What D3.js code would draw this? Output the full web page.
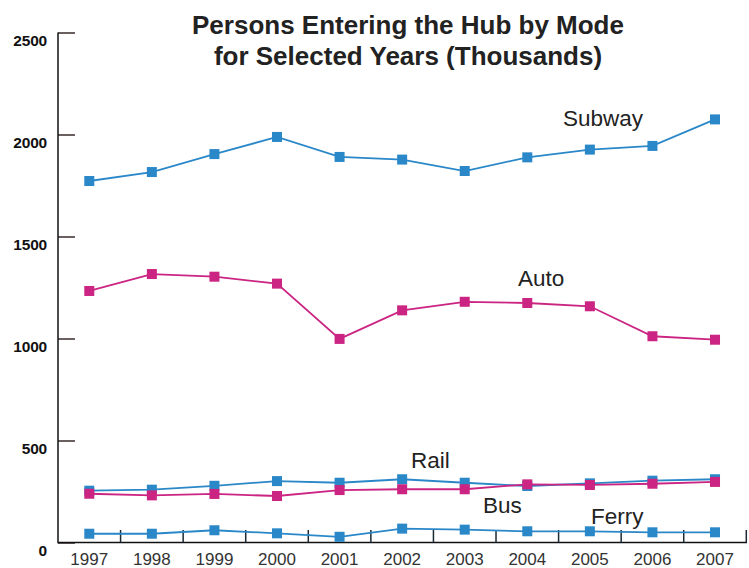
<!DOCTYPE html>
<html><head><meta charset="utf-8">
<script src="https://cdn.jsdelivr.net/npm/d3@7"></script>
<style>body{margin:0;background:#fff}svg{display:block}</style>
</head><body>
<svg id="c" width="749" height="568"></svg>
<script>
const years = ["1997","1998","1999","2000","2001","2002","2003","2004","2005","2006","2007"];
const subway = [1772,1816,1904,1988,1890,1877,1821,1888,1926,1944,2074];
const auto   = [1233,1316,1303,1269,998,1138,1180,1174,1158,1011,994];
const rail   = [254,259,278,301,293,310,293,277,290,303,310];
const bus    = [239,231,238,228,257,261,261,285,282,288,297];
const ferry  = [43,43,60,45,28,68,63,55,55,50,50];
const yTicks = [0,500,1000,1500,2000,2500];
const titleLines = ["Persons Entering the Hub by Mode","for Selected Years (Thousands)"];
const seriesNames = ["Subway","Auto","Rail","Bus","Ferry"];

const BLUE="#2a88c9", MAG="#cb2482";
const series = [
  {name:"Rail", values:rail, color:BLUE},
  {name:"Bus", values:bus, color:MAG},
  {name:"Ferry", values:ferry, color:BLUE},
  {name:"Auto", values:auto, color:MAG},
  {name:"Subway", values:subway, color:BLUE}
];
const labelPos = {Subway:[563,126],Auto:[518,286],Rail:[411,467.5],Bus:[483,512.5],Ferry:[591,523.5]};

const svg = d3.select("#c");
const x = d3.scaleBand().domain(years).range([58,746.3]);
const y = d3.scaleLinear().domain([0,2500]).range([542.5,32.5]);
const cx = d => x(d)+x.bandwidth()/2;

// title
svg.append("g").selectAll("text").data(titleLines).join("text")
  .attr("x",408).attr("y",(d,i)=>33.5+i*31)
  .attr("text-anchor","middle").attr("font-family","Liberation Sans, Arial, sans-serif")
  .attr("font-weight","bold").attr("font-size",26).attr("fill","#222").text(d=>d);

// y axis
const ya = svg.append("g").attr("transform","translate(58,0)")
  .call(d3.axisRight(y).tickValues(yTicks).tickSize(17).tickFormat(""));
ya.select(".domain").remove();
ya.selectAll(".tick line").attr("stroke","#3a2a2a").attr("stroke-width",1.5);
svg.append("line").attr("x1",58).attr("x2",58).attr("y1",32.5).attr("y2",543.2).attr("stroke","#111").attr("stroke-width",1.5);
svg.append("g").selectAll("text").data(yTicks).join("text")
  .attr("x",47).attr("y",d=>y(d)+13).attr("text-anchor","end")
  .attr("font-family","Liberation Sans, Arial, sans-serif").attr("font-weight","bold")
  .attr("font-size",15.5).attr("letter-spacing",-0.2).attr("fill","#111").text(d=>d);

// x axis
svg.append("line").attr("x1",58).attr("x2",747).attr("y1",542.5).attr("y2",542.5).attr("stroke","#111").attr("stroke-width",1.5);
const bounds = years.map(d=>x(d)+x.bandwidth());
svg.append("g").selectAll("line").data(bounds).join("line")
  .attr("x1",d=>d).attr("x2",d=>d).attr("y1",530).attr("y2",542.5)
  .attr("stroke","#1a2a35").attr("stroke-width",1.5);
svg.append("g").selectAll("text").data(years).join("text")
  .attr("x",d=>cx(d)).attr("y",565).attr("text-anchor","middle")
  .attr("font-family","Liberation Sans, Arial, sans-serif").attr("font-size",17).attr("fill","#333").text(d=>d);

// lines
const line = d3.line().x((v,i)=>cx(years[i])).y(v=>y(v));
series.forEach(s=>{
  const g = svg.append("g");
  g.append("path").attr("d",line(s.values)).attr("fill","none").attr("stroke",s.color).attr("stroke-width",1.8);
  g.selectAll("rect").data(s.values).join("rect")
    .attr("x",(v,i)=>cx(years[i])-5).attr("y",v=>y(v)-5).attr("width",10).attr("height",10).attr("fill",s.color);
});

// labels
svg.append("g").selectAll("text").data(seriesNames).join("text")
  .attr("x",d=>labelPos[d][0]).attr("y",d=>labelPos[d][1])
  .attr("font-family","Liberation Sans, Arial, sans-serif").attr("font-size",22.5).attr("fill","#222").text(d=>d);
</script>
</body></html>
